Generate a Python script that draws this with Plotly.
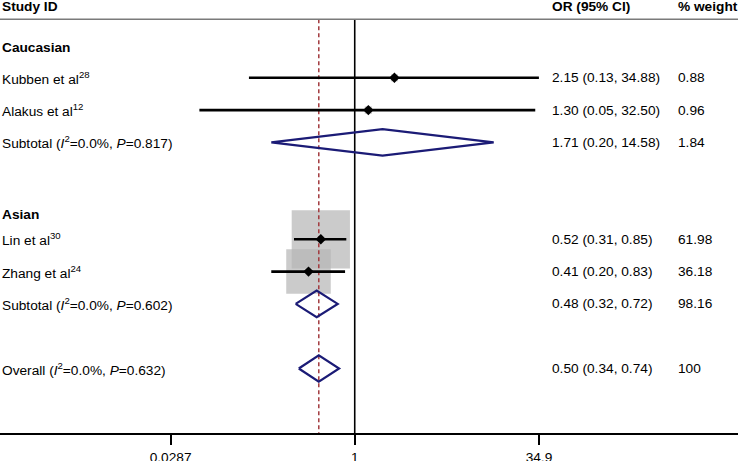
import plotly.graph_objects as go
import math

# ---- data ----
group_names = ["Caucasian", "Asian"]
group_rows = [0, 5]

study_labels = ["Kubben et al<sup>28</sup>", "Alakus et al<sup>12</sup>",
                "Lin et al<sup>30</sup>", "Zhang et al<sup>24</sup>"]
study_rows = [1, 2, 6, 7]
study_or = [2.15, 1.30, 0.52, 0.41]
study_lo = [0.13, 0.05, 0.31, 0.20]
study_hi = [34.88, 32.50, 0.85, 0.83]
study_w = [0.88, 0.96, 61.98, 36.18]

pool_labels = ["Subtotal (<i>I</i><sup>2</sup>=0.0%, <i>P</i>=0.817)",
               "Subtotal (<i>I</i><sup>2</sup>=0.0%, <i>P</i>=0.602)",
               "Overall (<i>I</i><sup>2</sup>=0.0%, <i>P</i>=0.632)"]
pool_rows = [3, 8, 10]
pool_or = [1.71, 0.48, 0.50]
pool_lo = [0.20, 0.32, 0.34]
pool_hi = [14.58, 0.72, 0.74]
pool_w = [1.84, 98.16, 100]

tick_vals = [0.0287, 1, 34.9]
tick_text = ["0.0287", "1", "34.9"]

# ---- styling ----
FONT = "Liberation Sans, Arial, sans-serif"
FS = 13.7
NAVY = "#1b1b76"
DRED = "#a23a3e"
BOXGRAY = "#b5b5b5"
W, H = 738, 461
HEADER_ROW = -1.2
HLINE_ROW = -0.81
AXIS_ROW = 12.0
DIAM_H = 0.41
BOX_K = 7.4

fig = go.Figure()

# weight boxes
fig.add_trace(go.Scatter(
    x=study_or, y=study_rows, mode="markers",
    marker=dict(symbol="square", size=[BOX_K * math.sqrt(w) for w in study_w],
                color=BOXGRAY, line=dict(width=0)),
    hoverinfo="skip", showlegend=False))

# dashed line at overall estimate
fig.add_trace(go.Scatter(
    x=[pool_or[-1], pool_or[-1]], y=[HLINE_ROW, AXIS_ROW], mode="lines",
    line=dict(color=DRED, width=1.5, dash="4px,3px"),
    hoverinfo="skip", showlegend=False))

# null line
fig.add_trace(go.Scatter(
    x=[1, 1], y=[HLINE_ROW, AXIS_ROW], mode="lines",
    line=dict(color="black", width=1.6),
    hoverinfo="skip", showlegend=False))

# CI lines
for r, lo, hi in zip(study_rows, study_lo, study_hi):
    fig.add_trace(go.Scatter(
        x=[lo, hi], y=[r, r], mode="lines",
        line=dict(color="black", width=2.6),
        hoverinfo="skip", showlegend=False))

# point estimates
fig.add_trace(go.Scatter(
    x=study_or, y=study_rows, mode="markers",
    marker=dict(symbol="diamond", size=8, color="black"),
    hoverinfo="skip", showlegend=False))

# pooled diamonds
for r, est, lo, hi in zip(pool_rows, pool_or, pool_lo, pool_hi):
    fig.add_trace(go.Scatter(
        x=[lo, est, hi, est, lo], y=[r, r - DIAM_H, r, r + DIAM_H, r],
        mode="lines", line=dict(color=NAVY, width=2.2),
        hoverinfo="skip", showlegend=False))

ann = []
X_LABEL = 0.0 / W
X_OR = 550.0 / W
X_WT = 675.5 / W

def add_text(x, y, text, bold=False, yshift=0):
    ann.append(dict(x=x, y=y, xref="paper", yref="y", text=(f"<b>{text}</b>" if bold else text),
                    showarrow=False, xanchor="left", yanchor="middle", yshift=yshift,
                    font=dict(family=FONT, size=FS, color="black")))

add_text(X_LABEL, HEADER_ROW, "Study ID", bold=True)
add_text(X_OR, HEADER_ROW, "OR (95% CI)", bold=True)
add_text(X_WT, HEADER_ROW, "% weight", bold=True)

gshift = [-2, -7]
for name, r, s in zip(group_names, group_rows, gshift):
    add_text(X_LABEL, r, name, bold=True, yshift=s)

for lab, r, est, lo, hi, w in zip(study_labels, study_rows, study_or, study_lo, study_hi, study_w):
    add_text(X_LABEL, r, lab)
    add_text(X_OR, r, f"{est:.2f} ({lo:.2f}, {hi:.2f})")
    add_text(X_WT, r, f"{w:g}")

for lab, r, est, lo, hi, w in zip(pool_labels, pool_rows, pool_or, pool_lo, pool_hi, pool_w):
    add_text(X_LABEL, r, lab)
    add_text(X_OR, r, f"{est:.2f} ({lo:.2f}, {hi:.2f})")
    add_text(X_WT, r, f"{w:g}")

fig.update_layout(
    width=W, height=H,
    margin=dict(l=0, r=0, t=0, b=0, autoexpand=False),
    paper_bgcolor="white", plot_bgcolor="white",
    annotations=ann,
    shapes=[dict(type="line", xref="paper", yref="y", x0=0, x1=1, y0=HLINE_ROW, y1=HLINE_ROW,
                 line=dict(color="#7a7a7a", width=1.5))],
    xaxis=dict(type="log", range=[-2.971, 3.210], domain=[0, 1], automargin=False,
               tickvals=tick_vals, ticktext=tick_text,
               ticks="outside", ticklen=10, tickwidth=1.6, tickcolor="black",
               showline=True, linecolor="black", linewidth=1.6,
               showgrid=False, zeroline=False,
               tickfont=dict(family=FONT, size=FS, color="black")),
    yaxis=dict(range=[12.006, -1.409], domain=[(H - 433.3) / H, 1], automargin=False,
               showgrid=False, zeroline=False, showticklabels=False,
               ticks="", showline=False),
    showlegend=False,
)

fig.write_html("out.html", config={"displayModeBar": False},
               post_script="document.body.style.margin='0';document.body.style.overflow='hidden';")
